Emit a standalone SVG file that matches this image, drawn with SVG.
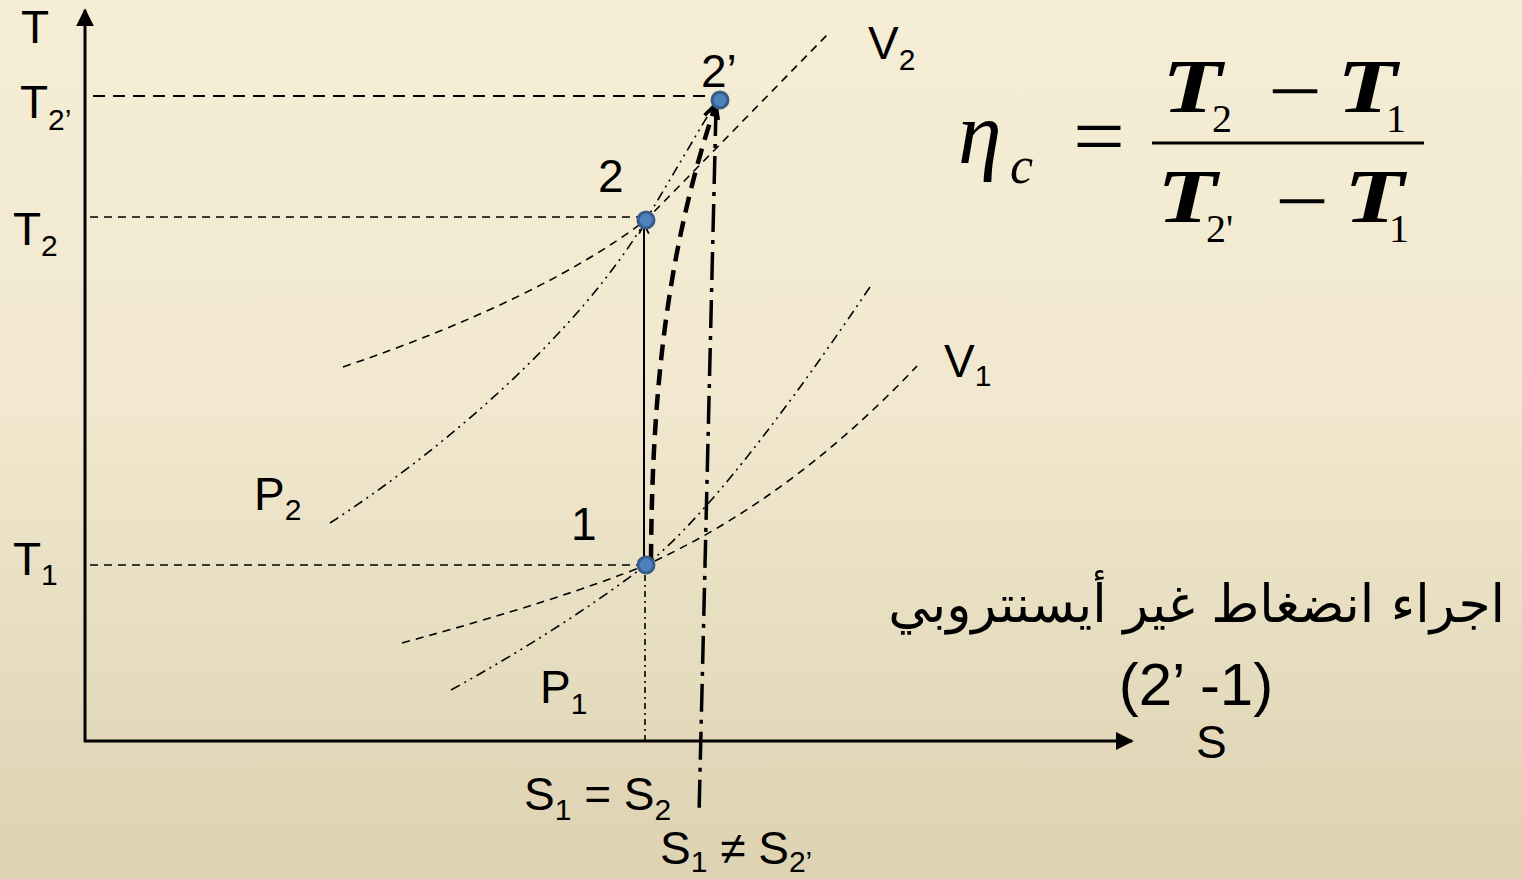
<svg xmlns="http://www.w3.org/2000/svg" width="1522" height="879" viewBox="0 0 1522 879">
<defs>
<linearGradient id="bg" x1="0" y1="0" x2="0" y2="1">
<stop offset="0" stop-color="#F6EDD6"/>
<stop offset="0.45" stop-color="#F1E8CF"/>
<stop offset="1" stop-color="#DDD2B1"/>
</linearGradient>
<marker id="tri" viewBox="0 0 10 10" refX="9" refY="5" markerWidth="6" markerHeight="6" markerUnits="strokeWidth" orient="auto">
<path d="M0,0 L10,5 L0,10 z" fill="#000"/>
</marker>
<marker id="open" viewBox="0 0 10 10" refX="9" refY="5" markerWidth="6" markerHeight="6" markerUnits="strokeWidth" orient="auto">
<path d="M1,1 L9,5 L1,9" fill="none" stroke="#000" stroke-width="1.5"/>
</marker>
<marker id="openThick" viewBox="0 0 10 10" refX="9" refY="5" markerWidth="4" markerHeight="4" markerUnits="strokeWidth" orient="auto">
<path d="M1,1 L9,5 L1,9" fill="none" stroke="#000" stroke-width="2"/>
</marker>
</defs>
<style>
.lbl{font-family:"Liberation Sans",Arial,sans-serif;font-size:46px;fill:#000}
.sub{font-size:30px}
.thin{fill:none;stroke:#000;stroke-width:1.6}
.dash{stroke-dasharray:8,6}
.dd{stroke-dasharray:10,5,2,5,2,5}
.pt{fill:#4F81BD;stroke:#385D8A;stroke-width:3}
.math{font-family:"Liberation Serif","Times New Roman",serif;fill:#000}
.T{font-size:76px;font-style:italic;font-weight:bold}
</style>
<rect x="0" y="0" width="1522" height="879" fill="url(#bg)"/>

<g id="axes">
<line x1="85" y1="742" x2="85" y2="10" stroke="#000" stroke-width="3" marker-end="url(#tri)"/>
<line x1="84" y1="741" x2="1132" y2="741" stroke="#000" stroke-width="3" marker-end="url(#tri)"/>
</g>

<g id="connectors">
<line x1="93" y1="96" x2="712" y2="96" class="thin" style="stroke-dasharray:12,8;stroke-width:1.8"/>
<line x1="90" y1="217" x2="640" y2="217" class="thin dash"/>
<line x1="90" y1="565" x2="640" y2="565" class="thin dash"/>
<path id="V2" d="M343,367 Q540,300 646,220 L827,35" class="thin dash"/>
<path id="P2" d="M330,523 C450,445 580,330 646,220 L720,95" class="thin dd"/>
<path id="V1" d="M402,643 Q560,600 646,565 Q790,500 917,366" class="thin dash"/>
<path id="P1" d="M451,690 Q560,630 646,565 C690,530 760,450 870,287" class="thin dd"/>
<line x1="645" y1="575" x2="645" y2="742" class="thin" style="stroke-dasharray:6,4,2,4"/>
<line x1="644" y1="565" x2="644" y2="224" stroke="#000" stroke-width="2" marker-end="url(#open)"/>
<path d="M651,560 C652,400 665,255 716,104" fill="none" stroke="#000" stroke-width="4.5" stroke-dasharray="16,9" marker-end="url(#openThick)"/>
<line x1="716" y1="108" x2="699" y2="815" stroke="#000" stroke-width="3.5" stroke-dasharray="28,8,4,8"/>
</g>

<g id="node-1"><circle cx="646" cy="565" r="8" class="pt"/><text class="lbl" x="571" y="540">1</text></g>
<g id="node-2"><circle cx="646" cy="220" r="8" class="pt"/><text class="lbl" x="598" y="192">2</text></g>
<g id="node-2p"><circle cx="720" cy="100" r="8" class="pt"/><text class="lbl" x="701" y="87">2’</text></g>

<g id="axis-labels">
<text class="lbl" x="21" y="43">T</text>
<text class="lbl" x="20" y="118">T<tspan class="sub" dy="12">2’</tspan></text>
<text class="lbl" x="13" y="245">T<tspan class="sub" dy="11">2</tspan></text>
<text class="lbl" x="13" y="575">T<tspan class="sub" dy="10">1</tspan></text>
<text class="lbl" x="1196" y="758">S</text>
<text class="lbl" x="524" y="810">S<tspan class="sub" dy="10">1</tspan><tspan dy="-10"> = S</tspan><tspan class="sub" dy="10">2</tspan></text>
<text class="lbl" x="660" y="864">S<tspan class="sub" dy="8">1</tspan><tspan dy="-8"> ≠ S</tspan><tspan class="sub" dy="8">2’</tspan></text>
</g>

<g id="curve-labels">
<text class="lbl" x="868" y="59">V<tspan class="sub" dy="11">2</tspan></text>
<text class="lbl" x="944" y="377">V<tspan class="sub" dy="9">1</tspan></text>
<text class="lbl" x="254" y="510">P<tspan class="sub" dy="10">2</tspan></text>
<text class="lbl" x="540" y="703">P<tspan class="sub" dy="11">1</tspan></text>
</g>

<g id="caption">
<text x="1505" y="622" text-anchor="end" style="font-family:'DejaVu Sans','Noto Sans',sans-serif;font-size:52px">اجراء انضغاط غير أيسنتروبي</text>
<text class="lbl" x="1196" y="705" text-anchor="middle" style="font-size:60px">(2’ -1)</text>
</g>

<g id="formula">
<text class="math" x="958" y="163" style="font-size:88px;font-style:italic">η</text>
<text class="math" x="1010" y="183" style="font-size:52px;font-style:italic">c</text>
<text class="math" x="1073" y="165" style="font-size:84px" textLength="52" lengthAdjust="spacingAndGlyphs">=</text>
<line x1="1152" y1="143" x2="1424" y2="143" stroke="#000" stroke-width="3"/>
<text class="math T" x="1162" y="112" textLength="60" lengthAdjust="spacingAndGlyphs">T</text>
<text class="math" x="1212" y="132" style="font-size:40px">2</text>
<text class="math" x="1268" y="118" style="font-size:80px" textLength="54" lengthAdjust="spacingAndGlyphs">−</text>
<text class="math T" x="1337" y="112" textLength="60" lengthAdjust="spacingAndGlyphs">T</text>
<text class="math" x="1386" y="132" style="font-size:40px">1</text>
<text class="math T" x="1157" y="222" textLength="60" lengthAdjust="spacingAndGlyphs">T</text>
<text class="math" x="1206" y="242" style="font-size:40px">2'</text>
<text class="math" x="1275" y="228" style="font-size:80px" textLength="54" lengthAdjust="spacingAndGlyphs">−</text>
<text class="math T" x="1344" y="222" textLength="60" lengthAdjust="spacingAndGlyphs">T</text>
<text class="math" x="1389" y="242" style="font-size:40px">1</text>
</g>
</svg>
